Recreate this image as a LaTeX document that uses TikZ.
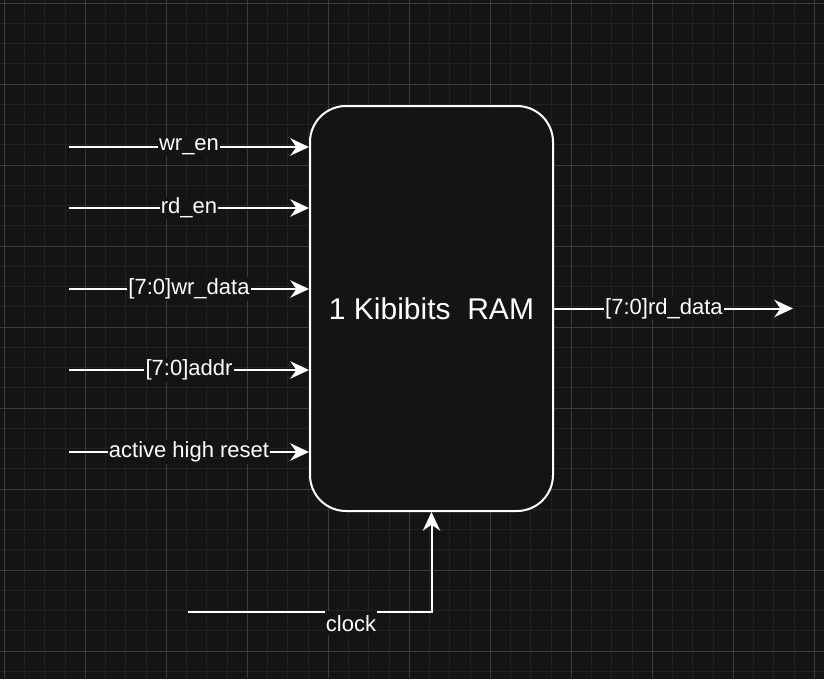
\documentclass[tikz,border=0pt]{standalone}
\usepackage{fontspec}
\setmainfont{Liberation Sans}
\usetikzlibrary{arrows.meta}
\definecolor{canvas}{HTML}{141414}
\definecolor{gridminor}{HTML}{222222}
\definecolor{gridmajor}{HTML}{3C3C3C}

\begin{document}
\begin{tikzpicture}[x=0.75pt,y=-0.75pt,
  >={Stealth[length=14pt,width=13pt,inset=4.5pt]},
  wire/.style={->,white,line width=1.5pt},
  sig/.style={fill=canvas,text=white,inner sep=1pt,font=\fontsize{16.5}{18}\selectfont}]
  \fill[canvas] (0,0) rectangle (824,679);
  \useasboundingbox (0,0) rectangle (824,679);
  % grid
  \foreach \i in {0,...,40}
    \draw[gridminor,line width=0.75pt] ({4.3+20.25*\i},0) -- ++(0,679);
  \foreach \i in {0,...,33}
    \draw[gridminor,line width=0.75pt] (0,{3+20.25*\i}) -- ++(824,0);
  \foreach \i in {0,...,10}
    \draw[gridmajor,line width=0.75pt] ({4.3+81*\i},0) -- ++(0,679);
  \foreach \i in {0,...,8}
    \draw[gridmajor,line width=0.75pt] (0,{3+81*\i}) -- ++(824,0);

  \node[draw=white,line width=1.5pt,fill=canvas,rounded corners=27pt,
    minimum width=182.25pt,minimum height=303.75pt,text=white,
    font=\fontsize{22.5}{26}\selectfont] (ram) at (431.5,308.5) {1 Kibibits\ \ RAM};

  \foreach \y/\txt [count=\k] in {147/wr\_en,208/rd\_en,289/{[7:0]wr\_data},
      370/{[7:0]addr},452/active high reset} {
    \coordinate (in\k) at (69,\y);
    \draw[wire] (in\k) -- (in\k -| ram.west) node[midway,sig] (lbl\k) {\txt};
  }

  \coordinate (out) at (793,308);
  \draw[wire] (ram.east) -- (ram.east -| out) node[pos=0.46,sig] (lblout) {[7:0]rd\_data};

  \coordinate (clk) at (188,612);
  \draw[wire] (clk) -- (clk -| ram.south) -- (ram.south);
  \node[sig,anchor=north,inner ysep=3pt] (lblclk) at (351,611) {clock};
\end{tikzpicture}
\end{document}
